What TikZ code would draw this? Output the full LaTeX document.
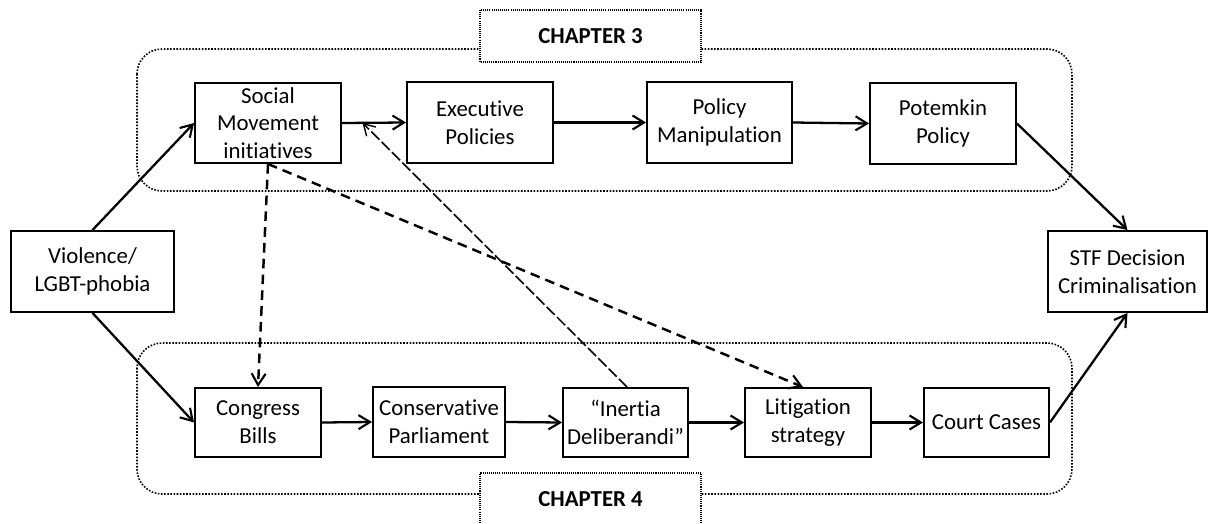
\documentclass[tikz,border=0pt]{standalone}
\usepackage{fontspec}
\setmainfont{Carlito}[Ligatures={NoCommon}]
\usetikzlibrary{arrows.meta,calc}
\begin{document}
\begin{tikzpicture}[x=0.02cm,y=-0.02cm,
  box/.style={draw,line width=1.1pt,align=center,inner sep=0pt,font=\fontsize{13}{15.8}\selectfont},
  flow/.style={line width=1.3pt,-{Straight Barb[length=2.3mm,width=2.8mm,line width=1.2pt]}},
  dflow/.style={line width=1.4pt,dash pattern=on 5.5pt off 3.5pt,-{Straight Barb[length=2.3mm,width=2.8mm,line width=1.2pt]}},
  tflow/.style={line width=0.9pt,dash pattern=on 6.5pt off 1.8pt,-{Straight Barb[length=2.2mm,width=2.6mm,line width=0.8pt]}},
  region/.style={line width=0.9pt,dash pattern=on 0.9pt off 0.9pt,rounded corners=0.5cm},
  chap/.style={line width=0.6pt,dash pattern=on 0.6pt off 0.6pt,fill=white}]
\useasboundingbox (0,0) rectangle (1208,524);
\begin{scope}
\clip (0,0) rectangle (1208,524);
% chapter regions
\draw[region] (137,49) rectangle (1072,191);
\draw[region] (137,343) rectangle (1072,494);
\draw[chap] (480,10) rectangle (701,62);
\node[font=\fontsize{13}{15.8}\selectfont\bfseries] (ch3) at (590.5,36) {CHAPTER 3};
\draw[chap] (480,540) rectangle (701,473);
\node[font=\fontsize{13}{15.8}\selectfont\bfseries] (ch4) at (590.5,499) {CHAPTER 4};
\end{scope}
% nodes
\node[box,minimum width=2.92cm,minimum height=1.60cm] (sm) at (268,123) {Social\\Movement\\initiatives};
\node[box,minimum width=2.92cm,minimum height=1.62cm] (ep) at (480,122.5) {Executive\\Policies};
\node[box,minimum width=2.90cm,minimum height=1.62cm] (pm) at (719.5,122.5) {Policy\\Manipulation};
\node[box,minimum width=2.92cm,minimum height=1.62cm] (pot) at (943,123.5) {Potemkin\\Policy};
\node[box,minimum width=3.26cm,minimum height=1.62cm] (vio) at (92.5,271.5) {Violence/\\LGBT-phobia};
\node[box,minimum width=3.18cm,minimum height=1.62cm] (stf) at (1127.5,271.5) {STF Decision\\Criminalisation};
\node[box,minimum width=2.52cm,minimum height=1.38cm] (cb) at (258,422.5) {Congress\\Bills};
\node[box,minimum width=2.64cm,minimum height=1.40cm] (cp) at (439,422) {Conservative\\Parliament};
\node[box,minimum width=2.50cm,minimum height=1.38cm] (id) at (625.5,422.5) {``Inertia\\Deliberandi''};
\node[box,minimum width=2.52cm,minimum height=1.38cm] (ls) at (808,422.5) {Litigation\\strategy};
\node[box,minimum width=2.50cm,minimum height=1.38cm] (cc) at (986.5,422.5) {Court Cases};
% connectors
\draw[flow] (vio.north) -- (sm.west);
\draw[flow] (vio.south) -- (cb.west);
\draw[flow] (sm.east) -- (ep.west);
\draw[flow] (ep.east) -- (pm.west);
\draw[flow] (pm.east) -- (pot.west);
\draw[flow] (pot.east) -- (stf.north);
\draw[flow] (cb.east) -- (cp.west);
\draw[flow] (cp.east) -- (id.west);
\draw[flow] (id.east) -- (ls.west);
\draw[flow] (ls.east) -- (cc.west);
\draw[flow] (cc.east) -- (stf.south);
\draw[dflow] (sm.south) -- (cb.north);
\draw[dflow] (sm.south) -- ([xshift=-0.1cm]ls.north);
\coordinate (smx) at ($(sm.east)!0.32!(ep.west)$);
\draw[tflow] ([xshift=0.03cm]id.north) -- (smx);
\end{tikzpicture}
\end{document}
